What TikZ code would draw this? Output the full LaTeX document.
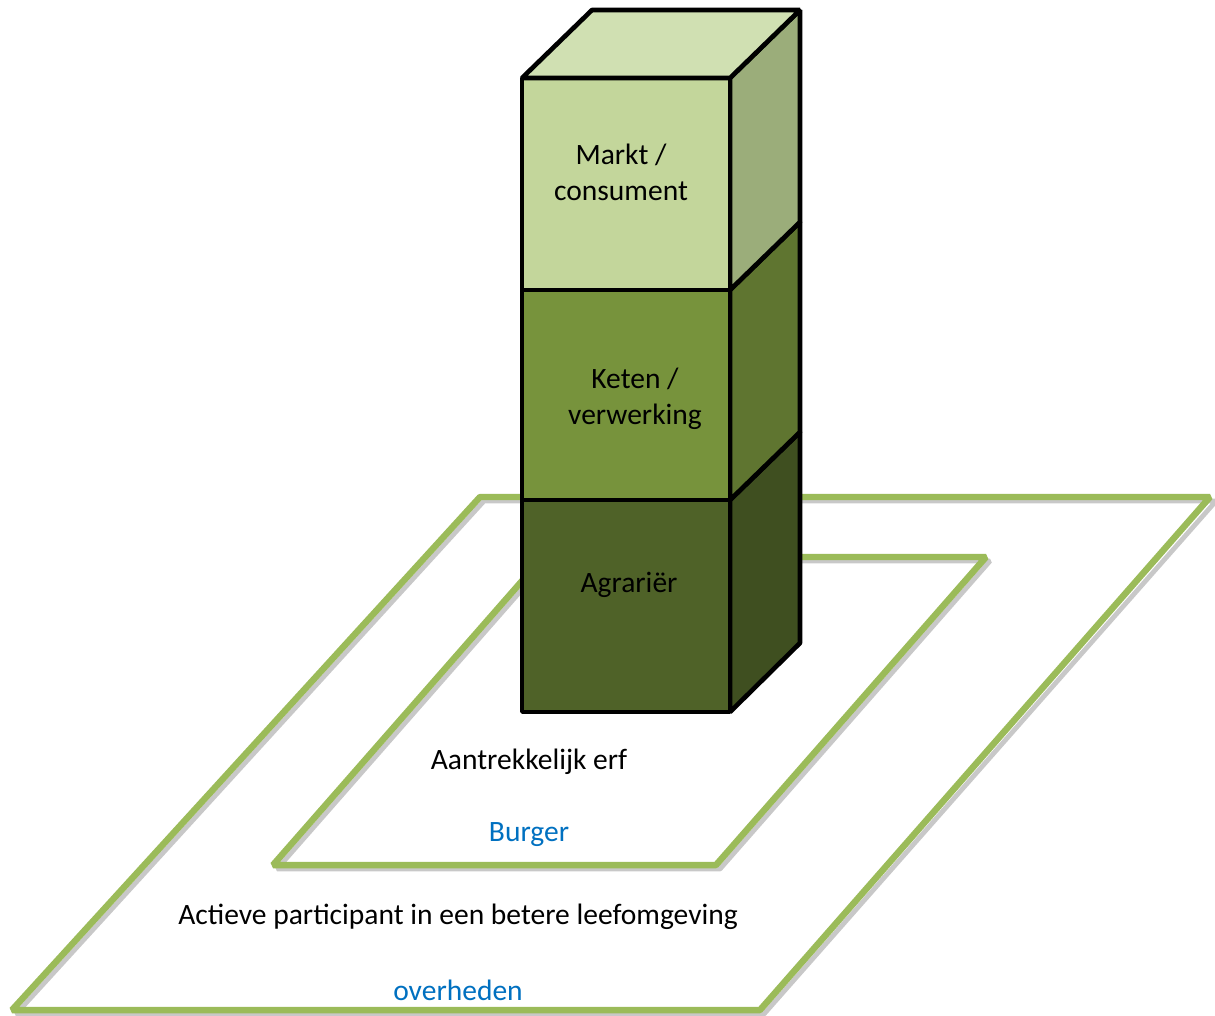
\documentclass[tikz,border=0pt]{standalone}
\usepackage{fontspec}
\setmainfont{Carlito}
\usepackage{tikz}

\definecolor{rim}{HTML}{9BBB59}
\definecolor{rimshadow}{HTML}{C8C8C8}
\definecolor{bluetext}{HTML}{0070C0}
\definecolor{topface}{HTML}{D0E0B2}
\definecolor{marktfront}{HTML}{C3D69B}
\definecolor{marktside}{HTML}{9BAD7A}
\definecolor{ketenfront}{HTML}{77933C}
\definecolor{ketenside}{HTML}{5F7530}
\definecolor{agrafront}{HTML}{4F6228}
\definecolor{agraside}{HTML}{3F4F20}

\tikzset{
  rimline/.style={draw=rim, line width=4.6pt, line join=bevel},
  rimshade/.style={draw=rimshadow, line width=3.4pt, line join=bevel},
  face/.style={draw=black, line width=3.3pt, line join=bevel},
  label/.style={font=\fontsize{21}{25.5}\selectfont, align=center, text=black},
  bluelabel/.style={label, text=bluetext}
}

\begin{document}
\begin{tikzpicture}[x=0.025cm, y=-0.025cm]

        \useasboundingbox (0,0) rectangle (1215,1015);

        %Outer plane
        \draw [rimshade] (484,501) -- (1216,501) -- (764,1014) -- (16,1014) -- cycle;
        \draw [rimline]  (480,497) -- (1210,497) -- (760,1010) -- (12,1010) -- cycle;
        %Inner plane
        \draw [rimshade] (547,561) -- (990,561) -- (720,869) -- (277,869) -- cycle;
        \draw [rimline]  (543,557) -- (986,557) -- (716,865) -- (273,865) -- cycle;

        %Agrarier
        \draw [face, fill=agraside]  (730,500) -- (800,432) -- (800,643) -- (730,712) -- cycle;
        \draw [face, fill=agrafront] (522,500) rectangle (730,712);
        %Keten
        \draw [face, fill=ketenside]  (730,290) -- (800,222) -- (800,432) -- (730,500) -- cycle;
        \draw [face, fill=ketenfront] (522,290) rectangle (730,500);
        %Markt
        \draw [face, fill=marktside]  (730,78) -- (800,10) -- (800,222) -- (730,290) -- cycle;
        \draw [face, fill=marktfront] (522,78) rectangle (730,290);
        \draw [face, fill=topface]    (522,78) -- (592,10) -- (800,10) -- (730,78) -- cycle;

        %Cube texts
        \node [label] (markt) at (621,172) {Markt /\\consument};
        \node [label] (keten) at (635,399) {Keten /\\verwerking};
        \node [label] (agrarier) at (629,585) {Agrariër};

        %Inner texts
        \node [label] (erf) at (529,762) {Aantrekkelijk erf};
        \node [bluelabel] (burger) at (529,835) {Burger};
        %Outer texts
        \node [label] (actief) at (458,917) {Actieve participant in een betere leefomgeving};
        \node [bluelabel] (overheden) at (458,990) {overheden};
      \end{tikzpicture}
\end{document}
